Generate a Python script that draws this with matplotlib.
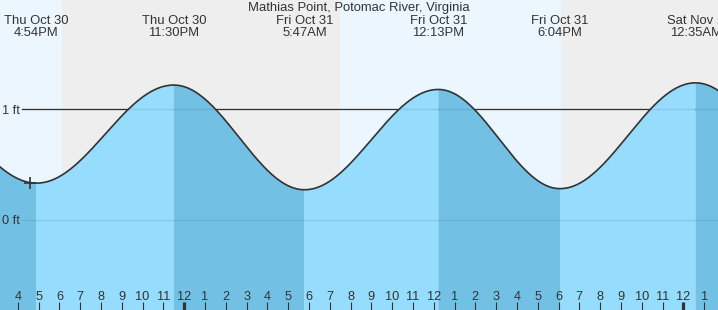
import numpy as np
import matplotlib.pyplot as plt
import matplotlib.transforms as mtransforms

plt.rcParams['font.family'] = ['Liberation Sans', 'DejaVu Sans']

# hours counted from Thu Oct 30 00:00; first and last extremes lie off the chart
tide_hours = [10.4, 16.9, 23.5, 29.783, 36.217, 42.067, 48.583, 54.8]
tide_levels = [1.20, 0.33, 1.22, 0.27, 1.18, 0.28, 1.24, 0.30]
tide_dates = ['Thu Oct 30', 'Thu Oct 30', 'Fri Oct 31', 'Fri Oct 31', 'Fri Oct 31', 'Sat Nov 1']
tide_times = ['4:54PM', '11:30PM', '5:47AM', '12:13PM', '6:04PM', '12:35AM']
night_start = [18.12, 42.13]
night_end = [31.5, 60.0]
now_hour = 16.6
now_level = 0.334
hour_ticks = list(range(16, 50))
title = 'Mathias Point, Potomac River, Virginia'

TXT = '#333333'
DAY = '#ecf6ff'
NIGHT = '#eeeeee'
WATER_UP = '#96dcfc'
WATER_DOWN = '#72c1e5'

W, H = 718, 310
x0, x1 = 315 / 20.8, 1033 / 20.8
y0, y1 = -90.5 / 110.2, 219.5 / 110.2


def tide_curve(t):
    y = np.empty_like(t)
    for i in range(len(tide_hours) - 1):
        a, b = tide_hours[i], tide_hours[i + 1]
        m = (t >= a) & (t <= b)
        f = (t[m] - a) / (b - a)
        y[m] = tide_levels[i] + (tide_levels[i + 1] - tide_levels[i]) * (1 - np.cos(np.pi * f)) / 2
    return y


fig = plt.figure(figsize=(W / 100, H / 100), dpi=100)
ax = fig.add_axes([0, 0, 1, 1])
ax.set_xlim(x0, x1)
ax.set_ylim(y0, y1)
ax.axis('off')
fig.patch.set_facecolor(DAY)

# day / night background
ax.axvspan(x0 - 1, x1 + 1, color=DAY, zorder=0)
for s, e in zip(night_start, night_end):
    ax.axvspan(s, e, color=NIGHT, lw=0, zorder=0.5)

# reference line below the water
ax.axhline(1, xmin=22 / W, xmax=1, color=TXT, lw=0.9, zorder=1)

# water, darker while the tide is falling
for i in range(len(tide_hours) - 1):
    a, b = tide_hours[i], tide_hours[i + 1]
    t = np.linspace(a, b, 200)
    c = WATER_DOWN if tide_levels[i + 1] < tide_levels[i] else WATER_UP
    ax.fill_between(t, y0 - 1, tide_curve(t), color=c, lw=0, zorder=2)

# faint lines through the water
for lev in (0, 1):
    ax.axhline(lev, xmin=22 / W, xmax=1, color='#000000', alpha=0.08, lw=1, zorder=3)

t = np.linspace(tide_hours[0], tide_hours[-1], 3000)
ax.plot(t, tide_curve(t), color=TXT, lw=1.2, zorder=4)

ax.plot([now_hour], [now_level], marker='+', ms=9, mew=1.2, color=TXT, zorder=5)

# y labels
ytrans = mtransforms.blended_transform_factory(ax.transAxes, ax.transData)
for lev in (0, 1):
    ax.text(11 / W, lev - 1.5 / 110.2, f'{lev} ft', transform=ytrans,
            ha='center', va='center', fontsize=9.2, color=TXT, zorder=6)

trans = mtransforms.blended_transform_factory(ax.transData, ax.transAxes)

# header
ax.text(0.5, 1 - 8.5 / H, title, transform=ax.transAxes, ha='center', va='center',
        fontsize=9.4, color=TXT, zorder=6)
for h, d, tm in zip(tide_hours[1:-1], tide_dates, tide_times):
    ax.text(h, 1 - 21.5 / H, d, transform=trans, ha='center', va='center', fontsize=9.4, color=TXT, zorder=6)
    ax.text(h, 1 - 33.5 / H, tm, transform=trans, ha='center', va='center', fontsize=9.4, color=TXT, zorder=6)

# hour ticks
for h in hour_ticks:
    hr = h % 12
    lab = '12' if hr == 0 else str(hr)
    lw = 2.3 if h % 24 == 0 else 0.8
    ax.plot([h, h], [0, 8 / H], transform=trans, color=TXT, lw=lw, solid_capstyle='butt', zorder=6)
    ax.text(h, 13.5 / H, lab, transform=trans, ha='center', va='center', fontsize=9.2, color=TXT, zorder=6)

fig.savefig('out.png', dpi=100, facecolor=fig.get_facecolor())
